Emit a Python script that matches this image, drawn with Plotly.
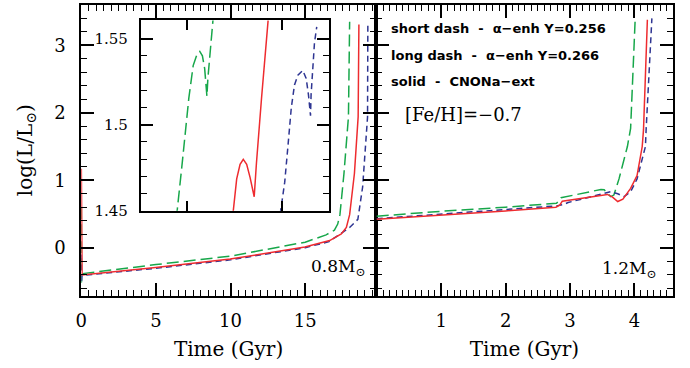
import plotly.graph_objects as go

W, H = 690, 368
GREEN = "#17a74a"
RED = "#ee2b2f"
BLUE = "#2e3592"
SERIF = "DejaVu Serif"
SANS = "DejaVu Sans"

# ---- Left panel (0.8 Msun) ----
l_green_t = [0.0, 0.0, 0.05, 5.0, 10.0, 15.0, 16.4, 16.96, 17.18, 17.33, 17.6, 17.9, 17.98]
l_green_y = [0.60, -0.52, -0.385, -0.25, -0.125, 0.082, 0.19, 0.26, 0.35, 0.49, 1.10, 1.94, 3.35]
l_red_t = [0.0, 0.01, 0.05, 4.98, 9.98, 14.98, 16.64, 17.42, 17.76, 17.98, 18.3, 18.55, 18.6]
l_red_y = [1.17, -0.30, -0.405, -0.294, -0.169, 0.010, 0.106, 0.203, 0.30, 0.49, 1.10, 1.94, 3.31]
l_blue_t = [0.0, 0.0, 0.05, 5.0, 10.0, 15.0, 16.6, 17.98, 18.53, 18.85, 19.18, 19.2]
l_blue_y = [-0.10, -0.52, -0.41, -0.305, -0.18, 0.0, 0.09, 0.30, 0.42, 0.90, 1.94, 3.35]

# ---- Right panel (1.2 Msun) ----
r_green_t = [0.0, 1.0, 2.0, 2.79, 2.83, 2.86, 3.48, 3.53, 3.63, 3.68, 3.76, 3.89, 3.94, 4.01]
r_green_y = [0.467, 0.54, 0.60, 0.66, 0.70, 0.74, 0.864, 0.86, 0.757, 0.78, 1.02, 1.50, 1.77, 3.37]
r_red_t = [0.0, 1.0, 2.0, 2.78, 2.84, 2.88, 2.95, 3.3, 3.58, 3.66, 3.74, 3.82, 3.94, 4.04, 4.12, 4.14, 4.2]
r_red_y = [0.42, 0.48, 0.545, 0.60, 0.63, 0.69, 0.70, 0.745, 0.79, 0.75, 0.685, 0.72, 0.88, 1.07, 1.50, 1.75, 3.38]
r_blue_t = [0.0, 1.0, 2.0, 2.79, 2.9, 2.97, 3.63, 3.74, 3.84, 3.94, 4.04, 4.17, 4.18, 4.27]
r_blue_y = [0.43, 0.50, 0.56, 0.62, 0.64, 0.67, 0.83, 0.80, 0.757, 0.83, 1.02, 1.50, 1.74, 3.40]

# ---- Inset (RGB bump, 0.8 Msun) ----
i_green_t = [17.44, 17.446, 17.473, 17.491, 17.508, 17.531, 17.552, 17.566, 17.580, 17.592, 17.604, 17.609, 17.622, 17.637]
i_green_y = [1.445, 1.45, 1.4779, 1.4967, 1.5155, 1.5343, 1.5410, 1.5425, 1.5400, 1.5325, 1.5165, 1.5268, 1.5438, 1.5619]
i_red_t = [17.742, 17.745, 17.762, 17.780, 17.797, 17.815, 17.833, 17.855, 17.867, 17.894, 17.912, 17.929]
i_red_y = [1.448, 1.4506, 1.4685, 1.4769, 1.4798, 1.4769, 1.4694, 1.4581, 1.4779, 1.5155, 1.5400, 1.5607]
i_blue_t = [17.993, 17.996, 18.017, 18.034, 18.052, 18.069, 18.087, 18.113, 18.131, 18.143, 18.154, 18.157, 18.166, 18.175, 18.187]
i_blue_y = [1.448, 1.4506, 1.4666, 1.4873, 1.5099, 1.5231, 1.5287, 1.5315, 1.5268, 1.5174, 1.5052, 1.5174, 1.5344, 1.5476, 1.5568]

left_ticks = [0, 5, 10, 15]
right_ticks = [1, 2, 3, 4]
y_ticks = [0, 1, 2, 3]
inset_yticks = [1.45, 1.5, 1.55]
inset_ylabels = ["1.45", "1.5", "1.55"]

LONG = "12px,5px"
SHORT = "6px,4px"

fig = go.Figure()

def add(t, y, color, dash, xa, ya):
    fig.add_trace(go.Scatter(x=t, y=y, mode="lines", xaxis=xa, yaxis=ya,
                             line=dict(color=color, width=1.5, dash=dash),
                             showlegend=False, hoverinfo="skip"))

add(l_green_t, l_green_y, GREEN, LONG, "x", "y")
add(l_blue_t, l_blue_y, BLUE, SHORT, "x", "y")
add(l_red_t, l_red_y, RED, "solid", "x", "y")
add(r_green_t, r_green_y, GREEN, LONG, "x2", "y2")
add(r_blue_t, r_blue_y, BLUE, SHORT, "x2", "y2")
add(r_red_t, r_red_y, RED, "solid", "x2", "y2")
add(i_green_t, i_green_y, GREEN, LONG, "x3", "y3")
add(i_red_t, i_red_y, RED, "solid", "x3", "y3")
add(i_blue_t, i_blue_y, BLUE, SHORT, "x3", "y3")

def px(x):
    return x / W

def py(y):
    return 1 - y / H

frame = dict(showline=True, linecolor="black", linewidth=2, mirror="allticks",
             ticks="inside", tickcolor="black", showgrid=False, zeroline=False)

fig.update_layout(
    width=W, height=H, margin=dict(l=0, r=0, t=0, b=0),
    paper_bgcolor="white", plot_bgcolor="white",
    xaxis=dict(domain=[px(76), px(373)], range=[0, 19.73], anchor="y",
               tickvals=left_ticks, ticklen=13, tickwidth=1.5,
               minor=dict(dtick=0.5, tick0=0, ticklen=6, tickwidth=1, ticks="inside", tickcolor="black"),
               tickfont=dict(family=SERIF, size=18, color="black"),
               ticklabelstandoff=8,
               title=dict(text="Time (Gyr)", font=dict(family=SERIF, size=20, color="black"), standoff=12),
               **frame),
    yaxis=dict(domain=[py(303), py(5)], range=[-0.71, 3.6], anchor="x",
               tickvals=y_ticks, ticklen=13, tickwidth=1.5,
               minor=dict(dtick=0.2, tick0=0, ticklen=6, tickwidth=1, ticks="inside", tickcolor="black"),
               tickfont=dict(family=SERIF, size=18, color="black"),
               ticklabelstandoff=10,
               title=dict(text="log(L/L<sub>⊙</sub>)", font=dict(family=SERIF, size=20, color="black"), standoff=16),
               **frame),
    xaxis2=dict(domain=[px(373), px(673)], range=[-0.015, 4.6], anchor="y2",
                tickvals=right_ticks, ticklen=13, tickwidth=1.5,
                minor=dict(dtick=0.1, tick0=0, ticklen=6, tickwidth=1, ticks="inside", tickcolor="black"),
                tickfont=dict(family=SERIF, size=18, color="black"),
                ticklabelstandoff=8,
                title=dict(text="Time (Gyr)", font=dict(family=SERIF, size=20, color="black"), standoff=12),
                **frame),
    yaxis2=dict(domain=[py(303), py(5)], range=[-0.71, 3.6], anchor="x2",
                tickvals=y_ticks, ticklen=13, tickwidth=1.5, showticklabels=False,
                minor=dict(dtick=0.2, tick0=0, ticklen=6, tickwidth=1, ticks="inside", tickcolor="black"),
                **frame),
    xaxis3=dict(domain=[px(136), px(326)], range=[17.253, 18.253], anchor="y3",
                tickvals=[17.5, 18.0], ticklen=10, tickwidth=1.5, showticklabels=False,
                **frame),
    yaxis3=dict(domain=[py(216), py(21)], range=[1.45, 1.5605], anchor="x3",
                tickvals=inset_yticks, ticktext=inset_ylabels, ticklen=12, tickwidth=1.5,
                minor=dict(dtick=0.01, tick0=1.45, ticklen=6, tickwidth=1, ticks="inside", tickcolor="black"),
                tickfont=dict(family=SERIF, size=15, color="black"),
                ticklabelstandoff=8,
                **frame),
)

ann = [
    dict(x=px(386), y=py(29), text="<b>short dash  -  α−enh Y=0.256</b>", font=dict(family=SANS, size=13, color="black"), xanchor="left"),
    dict(x=px(386), y=py(57), text="<b>long dash  -  α−enh Y=0.266</b>", font=dict(family=SANS, size=13, color="black"), xanchor="left"),
    dict(x=px(386), y=py(84), text="<b>solid  -  CNONa−ext</b>", font=dict(family=SANS, size=13, color="black"), xanchor="left"),
    dict(x=px(400), y=py(117), text="[Fe/H]=−0.7", font=dict(family=SERIF, size=18, color="black"), xanchor="left"),
    dict(x=px(364), y=py(274), text="0.8M<sub>⊙</sub>", font=dict(family=SERIF, size=17, color="black"), xanchor="right"),
    dict(x=px(658), y=py(276), text="1.2M<sub>⊙</sub>", font=dict(family=SERIF, size=17, color="black"), xanchor="right"),
]
for a in ann:
    fig.add_annotation(xref="paper", yref="paper", yanchor="middle", showarrow=False, **a)

fig.write_html("out.html")
